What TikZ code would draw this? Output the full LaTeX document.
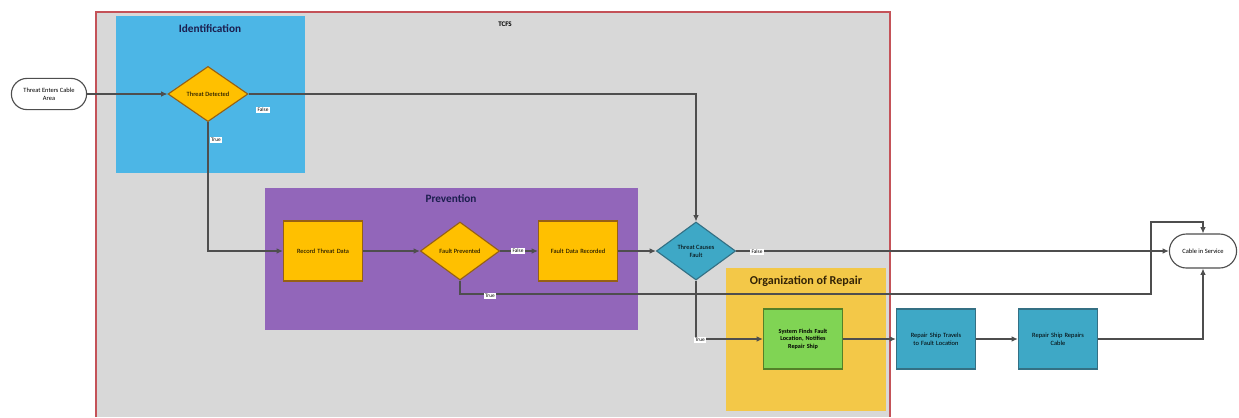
\documentclass[tikz,border=0pt]{standalone}
\usepackage{fontspec}
\setmainfont{Carlito}
\usetikzlibrary{shapes.geometric,shapes.misc,arrows.meta}

\definecolor{panelgray}{RGB}{216,216,216}
\definecolor{panelred}{RGB}{196,82,88}
\definecolor{identblue}{RGB}{76,182,230}
\definecolor{prevpurple}{RGB}{146,102,186}
\definecolor{orgyellow}{RGB}{243,200,72}
\definecolor{goldfill}{RGB}{255,192,0}
\definecolor{goldedge}{RGB}{150,96,20}
\definecolor{tealfill}{RGB}{62,168,198}
\definecolor{tealedge}{RGB}{52,112,132}
\definecolor{greenfill}{RGB}{128,212,84}
\definecolor{greenedge}{RGB}{84,128,40}
\definecolor{wiregray}{RGB}{78,78,78}
\definecolor{titlenavy}{RGB}{28,30,78}
\definecolor{titlebrown}{RGB}{52,36,6}

\tikzset{
  wire/.style={draw=wiregray, line width=0.75pt, -{Latex[length=4.5pt,width=4pt]}},
  proc/.style={rectangle, draw, line width=0.8pt, minimum width=1.98cm, minimum height=1.5cm,
    text width=1.8cm, align=center, inner sep=1pt, font=\fontsize{4.6}{5.6}\selectfont},
  choice/.style={diamond, draw, line width=0.8pt, minimum width=1.98cm, minimum height=1.45cm,
    inner sep=0pt, align=center, font=\fontsize{4.6}{5.6}\selectfont},
  terminal/.style={rounded rectangle, draw=wiregray, fill=white, line width=0.8pt,
    align=center, inner sep=1pt, font=\fontsize{4.6}{5.6}\selectfont},
  gold/.style={fill=goldfill, draw=goldedge},
  teal/.style={fill=tealfill, draw=tealedge},
  green/.style={fill=greenfill, draw=greenedge},
  lbl/.style={fill=white, inner sep=0.8pt, font=\fontsize{3.8}{4.2}\selectfont},
  paneltitle/.style={font=\bfseries\fontsize{8}{9}\selectfont, text=titlenavy}
}

\begin{document}
\begin{tikzpicture}[x=0.025cm, y=-0.025cm]
\useasboundingbox (0,0) rectangle (1239,417);

% TCFS area
\fill[panelgray] (96,12) rectangle (890,417);
\draw[panelred, line width=1.3pt] (96,417) -- (96,12) -- (890,12) -- (890,417);
\node[font=\bfseries\fontsize{5}{6}\selectfont] (tcfs) at (505,24) {TCFS};

% phase panels
\fill[identblue] (116,16) rectangle (305,173);
\node[paneltitle] (identT) at (210,29) {Identification};
\fill[prevpurple] (265,188) rectangle (638,330);
\node[paneltitle] (prevT) at (451,199) {Prevention};
\fill[orgyellow] (726,268) rectangle (886,411);
\node[paneltitle, text=titlebrown, font=\bfseries\fontsize{8.6}{10}\selectfont] (orgT) at (806,281) {Organization of Repair};

% flow nodes
\node[terminal, minimum width=1.95cm, minimum height=0.78cm] (enter) at (49,94) {Threat Enters Cable\\Area};
\node[choice, gold, minimum width=2.0cm, minimum height=1.38cm] (detect) at (208,94) {Threat Detected};
\node[proc, gold] (record) at (323,251) {Record Threat Data};
\node[choice, gold] (prevented) at (460,251) {Fault Prevented};
\node[proc, gold] (recorded) at (578,251) {Fault Data Recorded};
\node[choice, teal] (causes) at (696,251) {Threat Causes\\Fault};
\node[proc, green, font=\bfseries\fontsize{4.4}{5.4}\selectfont] (finds) at (803,339) {System Finds Fault\\Location, Notifies\\Repair Ship};
\node[proc, teal] (travels) at (936,339) {Repair Ship Travels\\to Fault Location};
\node[proc, teal] (repairs) at (1058,339) {Repair Ship Repairs\\Cable};
\node[terminal, minimum width=1.75cm, minimum height=0.85cm] (service) at (1203,251) {Cable in Service};

% junction points of the long return line
\coordinate (retA) at (1151,294);
\coordinate (retB) at (1151,222);

% connectors
\draw[wire] (enter.east) -- (detect.west);
\draw[wire] (detect.east) -| (causes.north);
\draw[wire] (detect.south) |- (record.west);
\draw[wire] (record.east) -- (prevented.west);
\draw[wire] (prevented.east) -- (recorded.west);
\draw[wire] (recorded.east) -- (causes.west);
\draw[wire] (prevented.south) |- (retA) -- (retB) -| (service.north);
\draw[wire] (causes.east) -- (service.west);
\draw[wire] (causes.south) |- (finds.west);
\draw[wire] (finds.east) -- (travels.west);
\draw[wire] (travels.east) -- (repairs.west);
\draw[wire] (repairs.east) -| (service.south);

% branch labels
\node[lbl] (l1) at (263,110) {False};
\node[lbl] (l2) at (216,140) {True};
\node[lbl] (l3) at (518,251) {False};
\node[lbl] (l4) at (490,296) {True};
\node[lbl] (l5) at (757,252) {False};
\node[lbl] (l6) at (700,340) {True};
\end{tikzpicture}
\end{document}
